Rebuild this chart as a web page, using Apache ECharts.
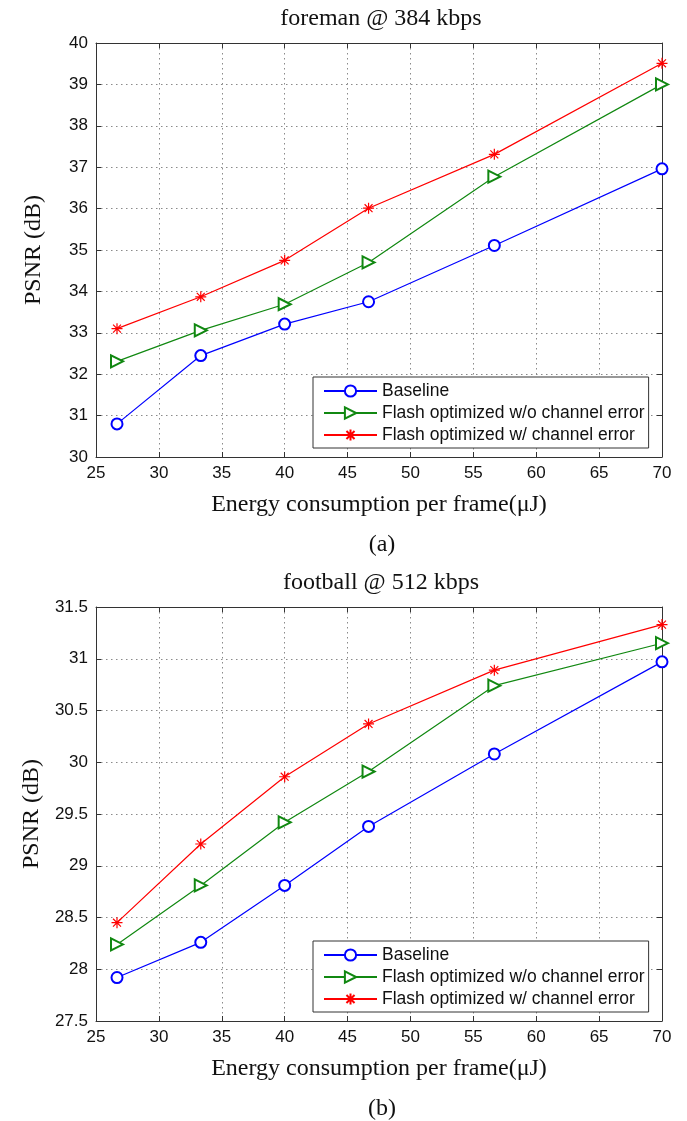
<!DOCTYPE html>
<html>
<head>
<meta charset="utf-8">
<script src="https://cdn.jsdelivr.net/npm/echarts@6/dist/echarts.min.js"></script>
<style>
  html, body { margin: 0; padding: 0; background: #fff; }
  #chart { width: 687px; height: 1121px; }
</style>
</head>
<body>
<div id="chart"></div>
<script>
// Energy per frame (µJ) at which each configuration was measured
const energy = [26.67, 33.33, 40, 46.67, 56.67, 70];

// (a) foreman @ 384 kbps — PSNR (dB)
const foremanBaseline   = [30.80, 32.45, 33.21, 33.75, 35.11, 36.96];
const foremanFlashNoErr = [32.31, 33.06, 33.69, 34.70, 36.77, 39.00];
const foremanFlashErr   = [33.10, 33.87, 34.75, 36.01, 37.31, 39.51];

// (b) football @ 512 kbps — PSNR (dB)
const footballBaseline   = [27.92, 28.26, 28.81, 29.38, 30.08, 30.97];
const footballFlashNoErr = [28.24, 28.81, 29.42, 29.91, 30.74, 31.15];
const footballFlashErr   = [28.45, 29.21, 29.86, 30.37, 30.89, 31.33];

const seriesNames = ['Baseline', 'Flash optimized w/o channel error', 'Flash optimized w/ channel error'];
const panelTitles = ['foreman @ 384 kbps', 'football @ 512 kbps'];
const panelTags = ['(a)', '(b)'];
const xLabel = 'Energy consumption per frame(\u03bcJ)';
const yLabel = 'PSNR (dB)';

// axis ranges: [min, max, interval]
const xRange = [25, 70, 5];
const yRanges = [[30, 40, 1], [27.5, 31.5, 0.5]];

const SANS = '"Liberation Sans", Arial, Helvetica, sans-serif';
const SERIF = '"Liberation Serif", "Times New Roman", serif';
const AXIS_COLOR = '#333';
const colors = ['#0000ff', '#118811', '#ff0000'];

// eight-armed asterisk marker
const asterisk = 'path://M0,-5L0,5M-5,0L5,0M-3.6,-3.6L3.6,3.6M-3.6,3.6L3.6,-3.6';

const gridTops = [43, 607];
const gridLeft = 96, gridW = 566, gridH = 414;

const pair = ys => energy.map((x, i) => [x, ys[i]]);
const panelData = [
  [foremanBaseline, foremanFlashNoErr, foremanFlashErr],
  [footballBaseline, footballFlashNoErr, footballFlashErr]
];

const grids = [], xAxes = [], yAxes = [], series = [], legends = [], graphics = [];

gridTops.forEach((top, g) => {
  grids.push({ left: gridLeft, top: top, width: gridW, height: gridH, containLabel: false });

  const dotted = { show: true, lineStyle: { color: '#8a8a8a', type: [1.5, 3.5], width: 1 } };
  const lineStyle = { color: AXIS_COLOR, width: 1 };
  const tick = { show: true, inside: true, length: 5, lineStyle: lineStyle };

  // bottom x axis with labels and dotted grid
  xAxes.push({
    type: 'value', gridIndex: g, position: 'bottom',
    min: xRange[0], max: xRange[1], interval: xRange[2],
    axisLine: { show: true, onZero: false, lineStyle: lineStyle },
    axisTick: tick,
    axisLabel: { show: true, margin: 8, color: '#111', fontFamily: SANS, fontSize: 17 },
    splitLine: dotted,
    name: xLabel, nameLocation: 'middle', nameGap: 36,
    nameTextStyle: { fontFamily: SERIF, fontSize: 24, color: '#111' }
  });
  // top frame edge with inward ticks
  xAxes.push({
    type: 'value', gridIndex: g, position: 'top',
    min: xRange[0], max: xRange[1], interval: xRange[2],
    axisLine: { show: true, onZero: false, lineStyle: lineStyle },
    axisTick: tick, axisLabel: { show: false }, splitLine: { show: false }
  });

  const yr = yRanges[g];
  yAxes.push({
    type: 'value', gridIndex: g, position: 'left',
    min: yr[0], max: yr[1], interval: yr[2],
    axisLine: { show: true, onZero: false, lineStyle: lineStyle },
    axisTick: tick,
    axisLabel: { show: true, margin: 8, color: '#111', fontFamily: SANS, fontSize: 17 },
    splitLine: dotted,
    name: yLabel, nameLocation: 'middle', nameGap: 50, nameRotate: 90,
    nameTextStyle: { fontFamily: SERIF, fontSize: 24, color: '#111' }
  });
  // right frame edge with inward ticks
  yAxes.push({
    type: 'value', gridIndex: g, position: 'right',
    min: yr[0], max: yr[1], interval: yr[2],
    axisLine: { show: true, onZero: false, lineStyle: lineStyle },
    axisTick: tick, axisLabel: { show: false }, splitLine: { show: false }
  });

  const markers = [
    { symbol: 'emptyCircle', symbolSize: 11, symbolRotate: 0 },
    { symbol: 'emptyTriangle', symbolSize: [12, 12], symbolRotate: -90 },
    { symbol: asterisk, symbolSize: 11, symbolRotate: 0 }
  ];

  panelData[g].forEach((ys, s) => {
    series.push({
      type: 'line', name: seriesNames[s],
      xAxisIndex: g * 2, yAxisIndex: g * 2,
      data: pair(ys),
      symbol: markers[s].symbol, symbolSize: markers[s].symbolSize, symbolRotate: markers[s].symbolRotate,
      showAllSymbol: true,
      lineStyle: { color: colors[s], width: 1.2 },
      itemStyle: { color: colors[s], borderColor: colors[s], borderWidth: 1.2 },
      emphasis: { disabled: true },
      z: 3 + s
    });
  });

  legends.push({
    orient: 'vertical',
    left: 313, top: top + 334,
    data: seriesNames,
    itemWidth: 53, itemHeight: 14, itemGap: 4,
    padding: [5, 4, 4, 10],
    backgroundColor: '#fff',
    borderColor: AXIS_COLOR, borderWidth: 1,
    textStyle: { fontFamily: SANS, fontSize: 17.5, color: '#111', lineHeight: 18 },
    selectedMode: false,
    z: 10
  });

  graphics.push({
    type: 'text',
    style: { text: panelTitles[g], font: '24px ' + SERIF, fill: '#111', textAlign: 'center', textVerticalAlign: 'middle', x: 381, y: top - 24 }
  });
  graphics.push({
    type: 'text',
    style: { text: panelTags[g], font: '24px ' + SERIF, fill: '#111', textAlign: 'center', textVerticalAlign: 'middle', x: 382, y: top + gridH + 88 }
  });
});

const chart = echarts.init(document.getElementById('chart'), null, { renderer: 'canvas' });
chart.setOption({
  animation: false,
  backgroundColor: '#fff',
  grid: grids,
  xAxis: xAxes,
  yAxis: yAxes,
  legend: legends,
  series: series,
  graphic: graphics
});
</script>
</body>
</html>
